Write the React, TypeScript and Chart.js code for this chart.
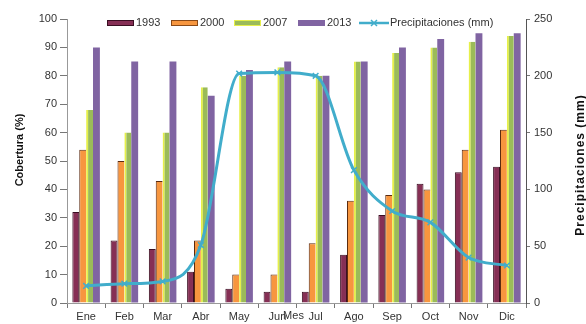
import React, { useEffect, useRef } from "react";
import { Chart, registerables } from "chart.js";

Chart.register(...registerables);

const months = ["Ene", "Feb", "Mar", "Abr", "May", "Jun", "Jul", "Ago", "Sep", "Oct", "Nov", "Dic"];
const cov1993 = [32, 22, 19, 11, 5, 4, 4, 17, 31, 42, 46, 48];
const cov2000 = [54, 50, 43, 22, 10, 10, 21, 36, 38, 40, 54, 61];
const cov2007 = [68, 60, 60, 76, 80, 83, 80, 85, 88, 90, 92, 94];
const cov2013 = [90, 85, 85, 73, 82, 85, 80, 85, 90, 93, 95, 95];
const precip = [15, 17, 19, 51, 202, 203, 200, 117, 81, 71, 40, 33];

const leftTitle = "Cobertura (%)";
const rightTitle = "Precipitaciones (mm)";
const xTitle = "Mes";

const C1993 = "#862F55";
const C2000 = "#F7963F";
const C2007 = "#9BBB59";
const C2013 = "#8064A2";
const CLINE = "#41ADCB";

const FONT = "'Liberation Sans', Arial, sans-serif";

const overlay = {
  id: "overlay",
  afterDraw(chart: any) {
    const ctx = chart.ctx;
    const area = chart.chartArea;
    ctx.save();
    ctx.fillStyle = "#111";
    ctx.font = `bold 11px ${FONT}`;
    ctx.textAlign = "center";
    ctx.textBaseline = "middle";
    ctx.save();
    ctx.translate(20, 150);
    ctx.rotate(-Math.PI / 2);
    ctx.fillText(leftTitle, 0, 0);
    ctx.restore();
    ctx.save();
    ctx.translate(581, 165);
    ctx.rotate(-Math.PI / 2);
    ctx.font = `bold 12px ${FONT}`;
    try { (ctx as any).letterSpacing = "1px"; } catch (e) {}
    ctx.fillText(rightTitle, 0, 0);
    ctx.restore();
    ctx.font = `11px ${FONT}`;
    ctx.fillStyle = "#333";
    ctx.fillText(xTitle, (area.left + area.right) / 2 - 3, 316);

    const y = 23;
    const items = [
      { t: "1993", c: C1993, b: "#3A0E22", x: 107 },
      { t: "2000", c: C2000, b: "#8a4a18", x: 171 },
      { t: "2007", c: C2007, b: "#E6F04A", x: 234 },
      { t: "2013", c: C2013, b: C2013, x: 298 },
    ];
    ctx.textAlign = "left";
    ctx.font = `11px ${FONT}`;
    for (const it of items) {
      ctx.fillStyle = it.c;
      ctx.fillRect(it.x, y - 3, 27, 6);
      ctx.strokeStyle = it.b;
      ctx.lineWidth = 1;
      ctx.strokeRect(it.x + 0.5, y - 3 + 0.5, 26, 5);
      ctx.fillStyle = "#333";
      ctx.fillText(it.t, it.x + 29, y);
    }
    ctx.strokeStyle = CLINE;
    ctx.lineWidth = 2.5;
    ctx.beginPath();
    ctx.moveTo(359, y);
    ctx.lineTo(389, y);
    ctx.stroke();
    ctx.lineWidth = 1.5;
    ctx.beginPath();
    ctx.moveTo(371, y - 3);
    ctx.lineTo(377, y + 3);
    ctx.moveTo(377, y - 3);
    ctx.lineTo(371, y + 3);
    ctx.stroke();
    ctx.fillStyle = "#333";
    ctx.fillText(rightTitle, 390, y);
    ctx.restore();
  },
};

export default function App() {
  const ref = useRef<HTMLCanvasElement>(null);
  useEffect(() => {
    document.body.style.margin = "0";
    const tickFont = { family: FONT, size: 11 };
    const chart = new Chart(ref.current as HTMLCanvasElement, {
      type: "bar",
      data: {
        labels: months,
        datasets: [
          {
            type: "line" as const,
            label: rightTitle,
            data: precip,
            yAxisID: "y1",
            borderColor: CLINE,
            backgroundColor: CLINE,
            borderWidth: 3,
            pointStyle: "crossRot",
            pointRadius: 4,
            pointBorderWidth: 1.5,
            cubicInterpolationMode: "monotone",
            order: 0,
          } as any,
          {
            label: "1993",
            data: cov1993,
            yAxisID: "y",
            backgroundColor: C1993,
            borderColor: "#3A0E22",
            borderWidth: 1,
            order: 1,
          },
          {
            label: "2000",
            data: cov2000,
            yAxisID: "y",
            backgroundColor: C2000,
            borderColor: "#5a2a10",
            borderWidth: { top: 1, left: 1, right: 0, bottom: 0 },
            order: 1,
          },
          {
            label: "2007",
            data: cov2007,
            yAxisID: "y",
            backgroundColor: C2007,
            borderColor: "#E6F04A",
            borderWidth: { top: 0, left: 2, right: 0, bottom: 0 },
            order: 1,
          },
          {
            label: "2013",
            data: cov2013,
            yAxisID: "y",
            backgroundColor: C2013,
            borderWidth: 0,
            order: 1,
          },
        ],
      },
      options: {
        animation: false,
        responsive: true,
        maintainAspectRatio: false,
        layout: { padding: { top: 19, left: 0, right: 0, bottom: 0 } },
        datasets: { bar: { categoryPercentage: 0.72, barPercentage: 1 } },
        plugins: { legend: { display: false }, tooltip: { enabled: false } },
        scales: {
          x: {
            grid: { drawOnChartArea: false, drawTicks: true, tickLength: 5, color: "#777", offset: true },
            border: { display: true, color: "#999" },
            ticks: { font: tickFont, color: "#333", padding: 2 },
            afterFit: (s: any) => { s.height = 21; },
          },
          y: {
            position: "left",
            min: 0,
            max: 100,
            ticks: { stepSize: 10, font: tickFont, color: "#333", padding: 3 },
            grid: { drawOnChartArea: false, drawTicks: true, tickLength: 7, color: "#777" },
            border: { display: true, color: "#999" },
            afterFit: (s: any) => { s.width = 67; },
          },
          y1: {
            position: "right",
            min: 0,
            max: 250,
            ticks: { stepSize: 50, font: tickFont, color: "#333", padding: 4 },
            grid: { drawOnChartArea: false, drawTicks: true, tickLength: 4, color: "#777" },
            border: { display: true, color: "#555" },
            afterFit: (s: any) => { s.width = 60; },
          },
        },
      },
      plugins: [overlay],
    } as any);
    return () => chart.destroy();
  }, []);
  return (
    <div style={{ position: "relative", width: 586, height: 324 }}>
      <canvas ref={ref} />
    </div>
  );
}
